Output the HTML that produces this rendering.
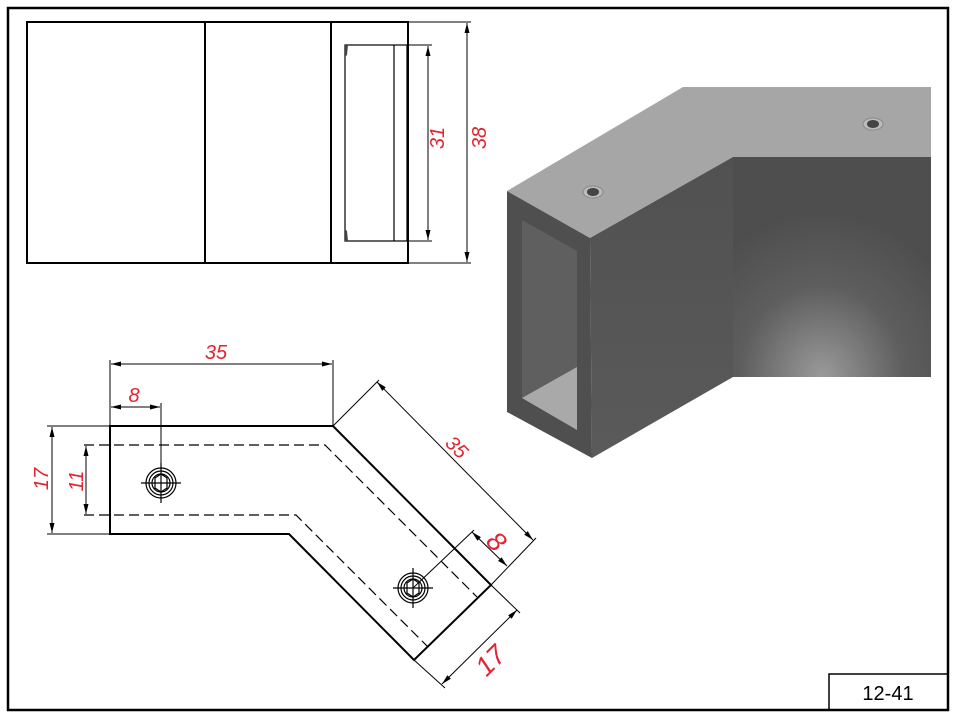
<!DOCTYPE html>
<html><head><meta charset="utf-8"><style>
html,body{margin:0;padding:0;background:#fff;width:957px;height:718px;overflow:hidden}
svg{display:block}
.r{fill:#e32330;font-family:"Liberation Sans",sans-serif;font-style:italic;font-size:20px}
.b{font-size:27px}
</style></head><body>
<svg width="957" height="718" viewBox="0 0 957 718" xmlns="http://www.w3.org/2000/svg">
<defs>
<marker id="a" viewBox="0 0 10 6" refX="10" refY="3" markerWidth="10" markerHeight="6" orient="auto-start-reverse" markerUnits="userSpaceOnUse"><path d="M0,0.5 L10,3 L0,5.5z" fill="#000"/></marker>
<radialGradient id="g" cx="0.45" cy="1" r="0.75"><stop offset="0" stop-color="#9a9a9a"/><stop offset="0.55" stop-color="#5e5e5e"/><stop offset="1" stop-color="#4e4e4e"/></radialGradient>
<linearGradient id="s" x1="0" y1="0" x2="0" y2="1"><stop offset="0" stop-color="#515151"/><stop offset="1" stop-color="#5a5a5a"/></linearGradient>
</defs>
<rect x="8" y="8" width="940" height="702" fill="none" stroke="#000" stroke-width="2.5"/>
<rect x="829" y="674" width="119" height="36" fill="none" stroke="#000" stroke-width="1.5"/>
<text x="888" y="700" text-anchor="middle" font-family="Liberation Sans,sans-serif" font-size="20">12-41</text>

<g fill="none" stroke="#000">
<rect x="27" y="22" width="381" height="241" stroke-width="2"/>
<line x1="205" y1="22" x2="205" y2="263" stroke-width="2"/>
<line x1="331" y1="22" x2="331" y2="263" stroke-width="2"/>
<rect x="345" y="45" width="62" height="196" stroke-width="1.2"/>
<line x1="394" y1="45" x2="394" y2="241" stroke-width="1.2"/>
<line x1="408" y1="45" x2="432" y2="45" stroke-width="1"/>
<line x1="408" y1="241" x2="432" y2="241" stroke-width="1"/>
<line x1="428" y1="46" x2="428" y2="240" stroke-width="1" marker-start="url(#a)" marker-end="url(#a)"/>
<line x1="408" y1="22" x2="471" y2="22" stroke-width="1"/>
<line x1="408" y1="263" x2="471" y2="263" stroke-width="1"/>
<line x1="467" y1="23" x2="467" y2="262" stroke-width="1" marker-start="url(#a)" marker-end="url(#a)"/>
</g>
<path d="M345,45 L348,45 L347,55 L345,57z M345,241 L348,241 L347,231 L345,229z" fill="#444"/>
<text class="r" transform="translate(444,138) rotate(-90)" text-anchor="middle">31</text>
<text class="r" transform="translate(486,138) rotate(-90)" text-anchor="middle">38</text>

<polygon points="507,191 683,87 931,87 931,157 733,157 590,238" fill="#a6a6a6"/>
<polygon points="733,157 931,157 931,377 733,377" fill="url(#g)"/>
<polygon points="590,238 733,157 733,377 592,458" fill="url(#s)"/>
<polygon points="507,191 590,238 592,458 507,412" fill="#4f4f4f"/>
<polygon points="522,220 577,251 577,430 522,398" fill="#5f5f5f"/>
<polygon points="522,398 577,367 577,430" fill="#a9a9a9"/>
<ellipse cx="593" cy="192" rx="10" ry="6" fill="#bbb" stroke="#888"/>
<ellipse cx="593" cy="192" rx="6" ry="4" fill="#444"/>
<ellipse cx="873" cy="124" rx="10" ry="6" fill="#bbb" stroke="#888"/>
<ellipse cx="873" cy="124" rx="6" ry="4" fill="#444"/>

<g fill="none" stroke="#000">
<path d="M110,426 L333,426 L491,585 L414,660 L289,534 L110,534 Z" stroke-width="2"/>
<path d="M84,445 L325,445 L477,597" stroke-width="1.2" stroke-dasharray="10,5"/>
<path d="M84,515 L296,515 L428,647" stroke-width="1.2" stroke-dasharray="10,5"/>
<line x1="110" y1="426" x2="110" y2="360" stroke-width="1"/>
<line x1="333" y1="426" x2="333" y2="360" stroke-width="1"/>
<line x1="161" y1="403" x2="161" y2="500" stroke-width="1"/>
<line x1="110" y1="426" x2="47" y2="426" stroke-width="1"/>
<line x1="110" y1="534" x2="47" y2="534" stroke-width="1"/>
<line x1="333" y1="426" x2="379" y2="380" stroke-width="1"/>
<line x1="491" y1="585" x2="536" y2="538" stroke-width="1"/>
<line x1="413" y1="588" x2="474" y2="530" stroke-width="1"/>
<line x1="491" y1="585" x2="520" y2="613" stroke-width="1"/>
<line x1="414" y1="660" x2="445" y2="688" stroke-width="1"/>
<line x1="111" y1="364" x2="332" y2="364" stroke-width="1" marker-start="url(#a)" marker-end="url(#a)"/>
<line x1="111" y1="407" x2="160" y2="407" stroke-width="1" marker-start="url(#a)" marker-end="url(#a)"/>
<line x1="52" y1="427" x2="52" y2="533" stroke-width="1" marker-start="url(#a)" marker-end="url(#a)"/>
<line x1="86" y1="446" x2="86" y2="514" stroke-width="1" marker-start="url(#a)" marker-end="url(#a)"/>
<line x1="377" y1="382" x2="533" y2="540" stroke-width="1" marker-start="url(#a)" marker-end="url(#a)"/>
<line x1="472" y1="532" x2="507" y2="566" stroke-width="1" marker-start="url(#a)" marker-end="url(#a)"/>
<line x1="517" y1="610" x2="442" y2="684" stroke-width="1" marker-start="url(#a)" marker-end="url(#a)"/>
<g stroke-width="1.2">
<circle cx="161" cy="483" r="15"/><circle cx="161" cy="483" r="12"/><circle cx="161" cy="483" r="9"/>
<polygon points="155,478 161,474 167,478 167,488 161,492 155,488"/>
<line x1="141" y1="483" x2="181" y2="483"/><line x1="161" y1="463" x2="161" y2="503"/>
<circle cx="413" cy="588" r="15"/><circle cx="413" cy="588" r="12"/><circle cx="413" cy="588" r="9"/>
<polygon points="407,583 413,579 419,583 419,593 413,597 407,593"/>
<line x1="393" y1="588" x2="433" y2="588"/><line x1="413" y1="568" x2="413" y2="608"/>
</g>
</g>
<text class="r" x="216" y="359" text-anchor="middle">35</text>
<text class="r" x="134" y="402" text-anchor="middle">8</text>
<text class="r" transform="translate(48,479) rotate(-90)" text-anchor="middle">17</text>
<text class="r" transform="translate(83,481) rotate(-90)" text-anchor="middle">11</text>
<text class="r" transform="translate(452,452) rotate(45)" text-anchor="middle">35</text>
<text class="r b" transform="translate(490,548) rotate(45)" text-anchor="middle">8</text>
<text class="r b" transform="translate(497,667) rotate(-45)" text-anchor="middle">17</text>
</svg>
</body></html>
